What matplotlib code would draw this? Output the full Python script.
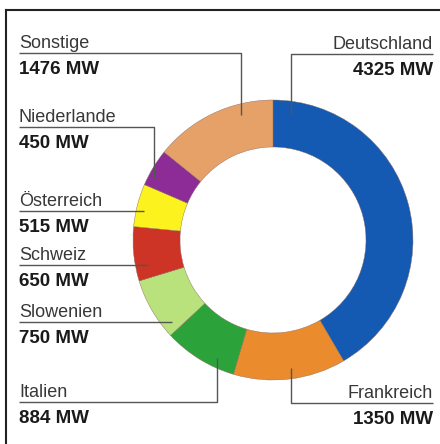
import matplotlib
matplotlib.use('Agg')
import matplotlib.pyplot as plt

# data (clockwise from top)
countries = ['Deutschland', 'Frankreich', 'Italien', 'Slowenien',
             'Schweiz', 'Österreich', 'Niederlande', 'Sonstige']
values_mw = [4325, 1350, 884, 750, 650, 515, 450, 1476]
value_labels = ['4325 MW', '1350 MW', '884 MW', '750 MW',
                '650 MW', '515 MW', '450 MW', '1476 MW']
colors = ['#1459b2', '#ea8b2d', '#2ca33a', '#b9e27c',
          '#cd3425', '#fbf21e', '#8d2c96', '#e6a169']

# label layout in pixels: (text x, align, line y, leader path)
layout = {
    'Deutschland': (433, 'right', 54, [(433, 54), (291, 54), (291, 115)]),
    'Frankreich': (433, 'right', 403, [(433, 403), (291, 403), (291, 368)]),
    'Italien': (19, 'left', 402, [(19, 402), (217, 402), (217, 358)]),
    'Slowenien': (19, 'left', 322, [(19, 322), (172, 322)]),
    'Schweiz': (19, 'left', 265, [(19, 265), (148, 265)]),
    'Österreich': (19, 'left', 211, [(19, 211), (144, 211)]),
    'Niederlande': (19, 'left', 127, [(19, 127), (154, 127), (154, 179)]),
    'Sonstige': (19, 'left', 53, [(19, 53), (241, 53), (241, 115)]),
}

plt.rcParams['font.family'] = ['Liberation Sans', 'DejaVu Sans']

fig = plt.figure(figsize=(4.4, 4.44), dpi=100)
ax = fig.add_axes([0, 0, 1, 1])

# y axis is inverted below, so counterclock=True draws clockwise on screen
ax.pie(values_mw, colors=colors, startangle=-90, counterclock=True,
       center=(273, 240), radius=140, frame=True,
       wedgeprops=dict(width=47, linewidth=0.3, edgecolor='#8a6a60'))
ax.set_xlim(0, 440)
ax.set_ylim(444, 0)
ax.set_aspect('equal')
ax.axis('off')

for name, val in zip(countries, value_labels):
    x, ha, ly, path = layout[name]
    xs = [p[0] for p in path]
    ys = [p[1] for p in path]
    ax.plot(xs, ys, color='#555555', lw=1.0, solid_capstyle='butt', zorder=3)
    ax.text(x, ly - 5, name, ha=ha, va='baseline', fontsize=13, color='#383838')
    ax.text(x, ly + 21, val, ha=ha, va='baseline', fontsize=13.5,
            fontweight='bold', color='#1a1a1a')

# frame lines
ax.plot([6, 440], [10, 10], color='#222222', lw=1.5, clip_on=False)
ax.plot([6, 6], [10, 444], color='#222222', lw=1.5, clip_on=False)

fig.savefig('out.png', dpi=100)
